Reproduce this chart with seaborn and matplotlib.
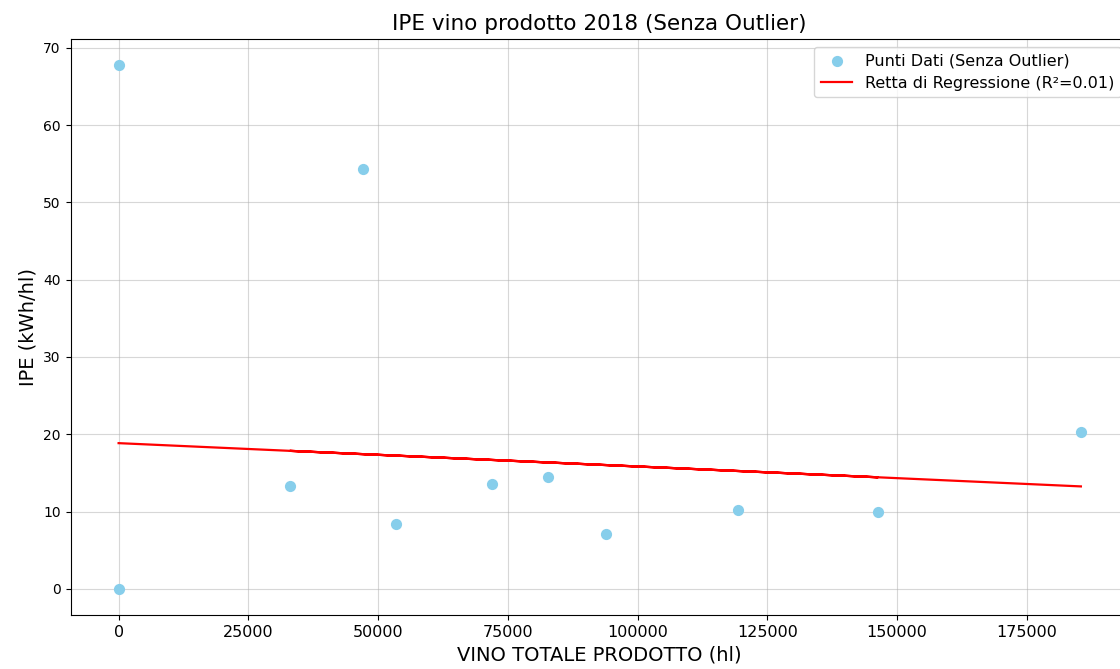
import numpy as np
import matplotlib
matplotlib.use("Agg")
import matplotlib.pyplot as plt
import seaborn as sns

# data (outliers already removed)
vino_hl = [0, 146300, 47000, 33000, 53400, 0, 71900, 82700, 93900, 119300, 185400]
ipe = [67.8, 10.0, 54.3, 13.3, 8.4, 0.0, 13.6, 14.5, 7.1, 10.2, 20.3]

# regression coefficients as shown on the chart
intercept = 18.85
slope = -3.02e-5
r2 = 0.01

x = np.array(vino_hl, dtype=float)
y = np.array(ipe)
y_pred = slope * x + intercept

fig = plt.figure(figsize=(11.2, 6.69), dpi=100)
ax = fig.add_axes([70.5 / 1120, 1 - 615 / 669, (1129 - 70.5) / 1120, (615 - 38.7) / 669])

sns.scatterplot(x=x, y=y, ax=ax, color="skyblue", s=65, linewidth=0,
                label="Punti Dati (Senza Outlier)", zorder=3)
# line drawn in data order, like plt.plot(x, y_pred)
sns.lineplot(x=x, y=y_pred, ax=ax, color="red", linewidth=1.6, sort=False,
             label=f"Retta di Regressione (R²={r2:.2f})", zorder=3)

ax.set_title("IPE vino prodotto 2018 (Senza Outlier)", fontsize=15.5)
ax.set_xlabel("VINO TOTALE PRODOTTO (hl)", fontsize=14)
ax.set_ylabel("IPE (kWh/hl)", fontsize=14)
ax.tick_params(axis="x", labelsize=11.5)
ax.grid(True, alpha=0.5)
ax.legend(loc="upper right", fontsize=11.5)

fig.savefig("out.png", dpi=100)
